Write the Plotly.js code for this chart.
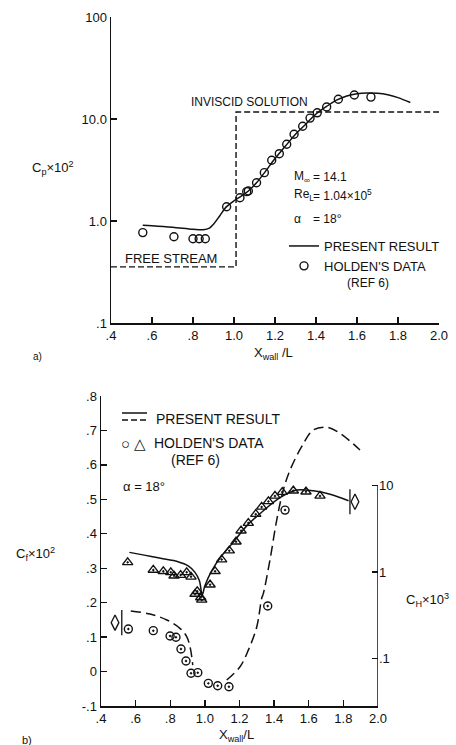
<!DOCTYPE html>
<html>
<head>
<meta charset="utf-8">
<script src="https://cdn.plot.ly/plotly-3.0.1.min.js"></script>
<style>html,body{margin:0;padding:0;background:#fff;}#chart{width:456px;height:745px;}</style>
</head>
<body>
<div id="chart"></div>
<script>
// ---------- (a) pressure coefficient ----------
var cpTickVals = [0.1, 1, 10, 100];
var cpTickText = ['.1', '1.0', '10.0', '100'];
var xTickVals = [0.4, 0.6, 0.8, 1.0, 1.2, 1.4, 1.6, 1.8, 2.0];
var xTickText = ['.4', '.6', '.8', '1.0', '1.2', '1.4', '1.6', '1.8', '2.0'];

var cpLineX = [0.555, 0.6, 0.7, 0.8, 0.85, 0.88, 0.9, 0.93, 0.96, 1.0, 1.03, 1.07, 1.11, 1.15, 1.2, 1.25, 1.3, 1.35, 1.4, 1.45, 1.5, 1.55, 1.6, 1.65, 1.7, 1.75, 1.8, 1.86];
var cpLineY = [0.91, 0.90, 0.87, 0.83, 0.82, 0.85, 0.93, 1.12, 1.36, 1.58, 1.72, 1.97, 2.37, 3.0, 4.1, 5.4, 7.1, 8.9, 11.2, 13.2, 15.3, 16.8, 17.7, 18.0, 17.9, 17.3, 16.2, 14.5];

var cpDataX = [0.555, 0.707, 0.80, 0.83, 0.86, 0.964, 1.029, 1.062, 1.07, 1.11, 1.148, 1.184, 1.221, 1.257, 1.293, 1.335, 1.371, 1.406, 1.452, 1.509, 1.587, 1.668];
var cpDataY = [0.77, 0.70, 0.67, 0.67, 0.67, 1.38, 1.69, 1.94, 1.97, 2.37, 2.98, 3.94, 4.57, 5.65, 7.08, 8.5, 10.2, 11.5, 13.1, 15.6, 17.2, 16.4];

var cpInviscidX = [0.4, 1.01, 1.01, 2.0];
var cpInviscidY = [0.355, 0.355, 11.7, 11.7];

// ---------- (b) skin friction / heat transfer ----------
var cfTickVals = [-0.1, 0, 0.1, 0.2, 0.3, 0.4, 0.5, 0.6, 0.7, 0.8];
var cfTickText = ['-.1', '0', '.1', '.2', '.3', '.4', '.5', '.6', '.7', '.8'];
var chTickVals = [0.1, 1, 10];
var chTickText = ['.1', '1', '10'];
var chAxisTop = 10;

var cfLineX = [0.564, 0.65, 0.722, 0.8, 0.837, 0.904, 0.943, 0.968, 0.985, 1.0, 1.04, 1.097, 1.155, 1.242, 1.338, 1.434, 1.53, 1.626, 1.723, 1.83];
var cfLineY = [0.346, 0.338, 0.331, 0.324, 0.32, 0.307, 0.288, 0.264, 0.223, 0.249, 0.293, 0.336, 0.37, 0.423, 0.467, 0.505, 0.527, 0.525, 0.515, 0.496];

var cfDataX = [0.554, 0.702, 0.76, 0.803, 0.822, 0.86, 0.895, 0.92, 0.943, 0.956, 0.976, 0.982, 1.03, 1.059, 1.097, 1.141, 1.18, 1.209, 1.251, 1.294, 1.328, 1.367, 1.405, 1.447, 1.511, 1.584, 1.665];
var cfDataY = [0.317, 0.295, 0.291, 0.288, 0.278, 0.28, 0.288, 0.275, 0.225, 0.233, 0.215, 0.208, 0.252, 0.291, 0.325, 0.351, 0.377, 0.409, 0.431, 0.457, 0.478, 0.494, 0.510, 0.521, 0.525, 0.522, 0.51];

var chLineX = [0.572, 0.683, 0.78, 0.856, 0.895, 0.914, 0.924, 0.93, null, 1.126, 1.203, 1.251, 1.3, 1.328, 1.338, 1.376, 1.415, 1.453, 1.492, 1.559, 1.626, 1.704, 1.781, 1.896];
var chLineY = [0.354, 0.327, 0.279, 0.223, 0.179, 0.137, 0.105, 0.084, null, 0.0564, 0.0804, 0.125, 0.233, 0.496, 0.567, 1.38, 3.99, 8.87, 15.1, 28.1, 43.8, 47.1, 40.1, 25.7];

var chDataX = [0.558, 0.702, 0.799, 0.833, 0.862, 0.891, 0.92, 0.959, 1.02, 1.074, 1.139, 1.363, 1.463];
var chDataY = [0.219, 0.21, 0.182, 0.176, 0.129, 0.0935, 0.0675, 0.0686, 0.0516, 0.0485, 0.0472, 0.405, 5.2];

var indicatorBarX = [0.52, 1.838];
var indicatorDiamondX = [0.481, 1.867];
var indicatorCf = [0.142, 0.493];

// ---------- layout helpers (pixel -> paper) ----------
var W = 456, H = 745;
function px(v) { return v / W; }
function py(v) { return 1 - v / H; }

var FONT = 'Liberation Sans, Arial, sans-serif';
var black = '#111';

var traces = [
  { x: cpInviscidX, y: cpInviscidY, xaxis: 'x', yaxis: 'y', mode: 'lines',
    line: { color: black, width: 1.4, dash: '6px,3px' }, showlegend: false, hoverinfo: 'skip' },
  { x: cpLineX, y: cpLineY, xaxis: 'x', yaxis: 'y', mode: 'lines', name: 'PRESENT RESULT',
    line: { color: black, width: 1.5, shape: 'spline' }, legend: 'legend' },
  { x: cpDataX, y: cpDataY, xaxis: 'x', yaxis: 'y', mode: 'markers', name: "HOLDEN'S DATA",
    marker: { symbol: 'circle-open', size: 8, color: black, line: { width: 1.4, color: black } }, legend: 'legend', cliponaxis: false },

  { x: cfLineX, y: cfLineY, xaxis: 'x2', yaxis: 'y2', mode: 'lines',
    line: { color: black, width: 1.5, shape: 'spline' }, showlegend: false },
  { x: cfDataX, y: cfDataY, xaxis: 'x2', yaxis: 'y2', mode: 'markers',
    marker: { symbol: 'triangle-up-open-dot', size: 9, color: black, line: { width: 1.4, color: black } }, showlegend: false },
  { x: chLineX, y: chLineY, xaxis: 'x2', yaxis: 'y3', mode: 'lines', connectgaps: false,
    line: { color: black, width: 1.5, dash: '10px,5px', shape: 'spline' }, showlegend: false },
  { x: chDataX, y: chDataY, xaxis: 'x2', yaxis: 'y3', mode: 'markers',
    marker: { symbol: 'circle-open-dot', size: 8, color: black, line: { width: 1.4, color: black } }, showlegend: false },
  { x: indicatorBarX, y: indicatorCf, xaxis: 'x2', yaxis: 'y2', mode: 'markers',
    marker: { symbol: 'line-ns-open', size: 18, color: black, line: { width: 1.3, color: black } }, showlegend: false, hoverinfo: 'skip' },
  { x: indicatorDiamondX, y: indicatorCf, xaxis: 'x2', yaxis: 'y2', mode: 'markers',
    marker: { symbol: 'diamond-tall-open', size: 11, color: black, line: { width: 1.3, color: black } }, showlegend: false, hoverinfo: 'skip' }
];

var axCommon = {
  showgrid: false, zeroline: false, showline: true, linecolor: black, linewidth: 1.5,
  ticks: 'inside', ticklen: 6, tickwidth: 1.3, tickcolor: black, tickmode: 'array',
  tickfont: { family: FONT, size: 13, color: black }, fixedrange: true
};
function ax(o) { var r = {}; for (var k in axCommon) r[k] = axCommon[k]; for (var k2 in o) r[k2] = o[k2]; return r; }

var ann = [];
function txt(t, x, y, anchor, size) {
  ann.push({ text: t, x: px(x), y: py(y), xref: 'paper', yref: 'paper', showarrow: false,
    xanchor: anchor || 'center', yanchor: 'middle', font: { family: FONT, size: size || 13, color: black } });
}
// (a)
txt('INVISCID SOLUTION', 249, 102, 'center', 12);
txt('FREE STREAM', 171, 258, 'center', 13);
txt('M<sub>∞</sub>', 292, 177, 'left', 12);
txt('= 14.1', 311, 177, 'left', 12);
txt('Re<sub>L</sub>', 292, 195, 'left', 12);
txt('= 1.04×10<sup>5</sup>', 311, 195, 'left', 12);
txt('α', 292, 219, 'left', 12);
txt('= 18°', 311, 219, 'left', 12);
txt('(REF 6)', 345, 283, 'left', 12);
txt('C<sub>p</sub>×10<sup>2</sup>', 53, 168, 'center', 13);
txt('X<sub>wall</sub> /L', 273, 353, 'center', 13);
txt('a)', 37, 356, 'center', 10);
// (b)
txt('PRESENT RESULT', 154, 419, 'left', 14);
txt('○ △', 119, 443, 'left', 15);
txt("HOLDEN'S DATA", 152, 443, 'left', 14);
txt('(REF 6)', 169, 460, 'left', 14);
txt('α = 18°', 121, 486, 'left', 13);
txt('C<sub>f</sub>×10<sup>2</sup>', 35, 554, 'center', 13);
txt('C<sub>H</sub>×10<sup>3</sup>', 427, 600, 'center', 13);
txt('X<sub>wall</sub>/L', 236, 735, 'center', 13);
txt('b)', 27, 740, 'center', 11);

var chRange = [-1.549, 2.035];
var chTopFrac = (Math.log10(chAxisTop) - chRange[0]) / (chRange[1] - chRange[0]);

var layout = {
  width: W, height: H,
  margin: { l: 0, r: 0, t: 0, b: 0 },
  paper_bgcolor: '#fff', plot_bgcolor: 'rgba(0,0,0,0)',
  font: { family: FONT, color: black },
  xaxis: ax({ domain: [px(111), px(439)], range: [0.4, 2.0], anchor: 'y', tickvals: xTickVals, ticktext: xTickText }),
  yaxis: ax({ domain: [py(323), py(17)], type: 'log', range: [-1, 2], anchor: 'x', tickvals: cpTickVals, ticktext: cpTickText }),
  xaxis2: ax({ domain: [px(101), px(378)], range: [0.4, 2.0], anchor: 'y2', tickvals: xTickVals, ticktext: xTickText }),
  yaxis2: ax({ domain: [py(706), py(396)], range: [-0.1, 0.8], anchor: 'x2', tickvals: cfTickVals, ticktext: cfTickText }),
  yaxis3: ax({ overlaying: 'y2', anchor: 'x2', side: 'right', type: 'log', range: chRange, showline: false,
               tickvals: chTickVals, ticktext: chTickText }),
  legend: {
    x: px(284), y: py(231), xanchor: 'left', yanchor: 'top',
    bgcolor: 'rgba(0,0,0,0)', borderwidth: 0, tracegroupgap: 0, itemwidth: 30,
    font: { family: FONT, size: 13, color: black }
  },
  showlegend: true,
  annotations: ann,
  shapes: [
    // right (C_H) axis line, ending at the top tick of that scale
    { type: 'line', xref: 'x2', yref: 'y2 domain', x0: 2.0, x1: 2.0, y0: 0, y1: chTopFrac, line: { color: black, width: 1.5 } },
    // legend keys for panel (b)
    { type: 'line', xref: 'paper', yref: 'paper', x0: px(122), x1: px(147), y0: py(413), y1: py(413), line: { color: black, width: 1.5 } },
    { type: 'line', xref: 'paper', yref: 'paper', x0: px(122), x1: px(147), y0: py(420), y1: py(420), line: { color: black, width: 1.5, dash: '6px,3px' } }
  ]
};

Plotly.newPlot('chart', traces, layout, { staticPlot: true, displayModeBar: false });
</script>
</body>
</html>
